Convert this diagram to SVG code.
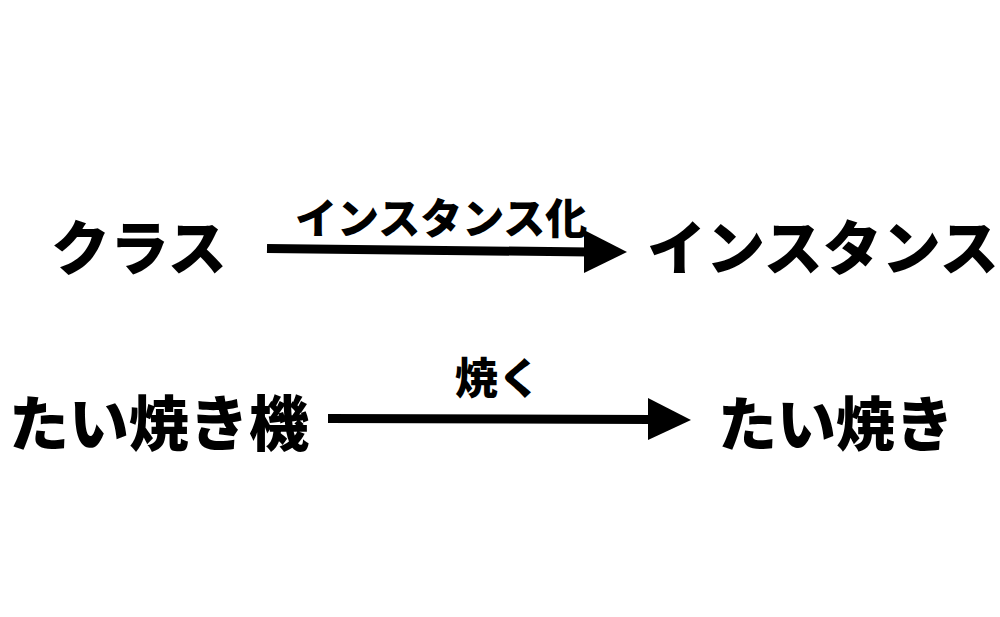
<svg xmlns="http://www.w3.org/2000/svg" width="1000" height="617" viewBox="0 0 1000 617">
<style>
.t{font-family:"Noto Sans CJK JP","Noto Sans CJK SC",sans-serif;font-weight:900;fill:#000}
.big{font-size:59px}
.lbl{font-size:42px}
.sh{stroke:#000;stroke-width:9;fill:none}
.hd{fill:#000}
</style>
<rect width="1000" height="617" fill="#fff"/>
<g id="class"><text class="t big" x="51" y="270">クラス</text></g>
<g id="instance"><text class="t big" x="647" y="270">インスタンス</text></g>
<g id="taiyakiki"><text class="t big" x="9" y="446" style="font-size:60px">たい焼き機</text></g>
<g id="taiyaki"><text class="t big" x="718" y="446">たい焼き</text></g>
<g id="connectors">
<line class="sh" x1="267" y1="248.5" x2="590" y2="252"/>
<polygon class="hd" points="584,230 627,252 584,273"/>
<text class="t lbl" x="295" y="234">インスタンス化</text>
<line class="sh" x1="328" y1="418.5" x2="652" y2="419.5"/>
<polygon class="hd" points="648,398 691,420 648,440"/>
<text class="t lbl" x="455" y="394" style="font-size:43px">焼く</text>
</g>
</svg>
